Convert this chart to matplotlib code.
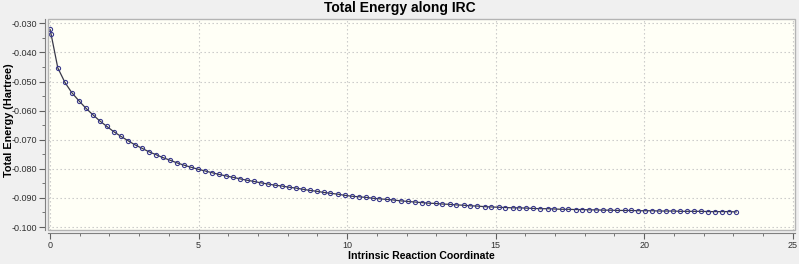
import matplotlib
matplotlib.use('Agg')
import matplotlib.pyplot as plt
from matplotlib.patches import Rectangle
from matplotlib.ticker import MultipleLocator, FormatStrFormatter

#IRC points
irc_coord = [0.00, 0.03, 0.26, 0.50, 0.73, 0.97, 1.20, 1.44, 1.67, 1.91,
             2.14, 2.38, 2.62, 2.85, 3.09, 3.32, 3.56, 3.79, 4.03, 4.26,
             4.50, 4.73, 4.97, 5.21, 5.44, 5.68, 5.91, 6.15, 6.38, 6.62,
             6.85, 7.09, 7.33, 7.56, 7.80, 8.03, 8.27, 8.50, 8.74, 8.97,
             9.21, 9.44, 9.68, 9.92, 10.15, 10.39, 10.62, 10.86, 11.09, 11.33,
             11.56, 11.80, 12.04, 12.27, 12.51, 12.74, 12.98, 13.21, 13.45, 13.68,
             13.92, 14.15, 14.39, 14.63, 14.86, 15.10, 15.33, 15.57, 15.80, 16.04,
             16.27, 16.51, 16.75, 16.98, 17.22, 17.45, 17.69, 17.92, 18.16, 18.39,
             18.63, 18.86, 19.10, 19.34, 19.57, 19.81, 20.04, 20.28, 20.51, 20.75,
             20.98, 21.22, 21.46, 21.69, 21.93, 22.16, 22.40, 22.63, 22.87, 23.10]
energy = [-0.0321, -0.0335, -0.0453, -0.0503, -0.0538, -0.0566, -0.0591, -0.0614, -0.0635, -0.0654,
          -0.0672, -0.0688, -0.0703, -0.0717, -0.0729, -0.0741, -0.0751, -0.0761, -0.0770, -0.0779,
          -0.0787, -0.0794, -0.0801, -0.0807, -0.0813, -0.0819, -0.0824, -0.0829, -0.0834, -0.0839,
          -0.0843, -0.0848, -0.0852, -0.0856, -0.0859, -0.0863, -0.0866, -0.0870, -0.0874, -0.0877,
          -0.0881, -0.0884, -0.0887, -0.0891, -0.0894, -0.0896, -0.0898, -0.0901, -0.0903, -0.0905,
          -0.0907, -0.0910, -0.0912, -0.0914, -0.0916, -0.0918, -0.0919, -0.0921, -0.0922, -0.0924,
          -0.0925, -0.0927, -0.0928, -0.0930, -0.0931, -0.0932, -0.0933, -0.0934, -0.0934, -0.0935,
          -0.0936, -0.0937, -0.0937, -0.0938, -0.0939, -0.0939, -0.0940, -0.0940, -0.0941, -0.0941,
          -0.0942, -0.0942, -0.0943, -0.0943, -0.0943, -0.0944, -0.0944, -0.0944, -0.0945, -0.0945,
          -0.0945, -0.0946, -0.0946, -0.0946, -0.0946, -0.0947, -0.0947, -0.0947, -0.0947, -0.0948]

plt.rcParams['font.family'] = ['Liberation Sans', 'DejaVu Sans']

fig = plt.figure(figsize=(7.99, 2.64), dpi=100, facecolor='#f0f0f0')
ax = fig.add_axes([0.0597, 0.129, 0.9353, 0.799])
ax.set_facecolor('#fffff6')

#Curve with small open circle markers
ax.plot(irc_coord, energy, color='#383848', linewidth=0.9,
        marker='o', markersize=3.0, markerfacecolor='none',
        markeredgecolor='#3a3a8c', markeredgewidth=0.8, zorder=3)

ax.set_xlim(-0.08, 25.08)
ax.set_ylim(-0.1010, -0.0285)

#Axis formatting
ax.xaxis.set_major_locator(MultipleLocator(5))
ax.xaxis.set_minor_locator(MultipleLocator(1))
ax.yaxis.set_major_locator(MultipleLocator(0.01))
ax.yaxis.set_minor_locator(MultipleLocator(0.005))
ax.yaxis.set_major_formatter(FormatStrFormatter('%.3f'))

ax.grid(True, which='major', linestyle=(0, (1.2, 2.4)), color='#c4c4c4', linewidth=0.8)

for side in ['top', 'right']:
    ax.spines[side].set_visible(False)
ax.spines['left'].set_position(('outward', 2))
ax.spines['bottom'].set_position(('outward', 2.5))
ax.spines['left'].set_color('#808080')
ax.spines['bottom'].set_color('#808080')

#Frame around plot area
ax.add_patch(Rectangle((0, 0), 1, 1, transform=ax.transAxes, fill=False,
                       edgecolor='#b4b4b4', linewidth=1.0, clip_on=False, zorder=4))

ax.tick_params(axis='both', which='major', length=4, color='#606060',
               labelsize=6.5, labelcolor='#303030', pad=1.5)
ax.tick_params(axis='both', which='minor', length=2.5, color='#606060')

#Title is centred on the whole window, not on the plot area
fig.text(0.5, 0.968, 'Total Energy along IRC', fontsize=10, fontweight='bold',
         ha='center', va='center')
ax.set_xlabel('Intrinsic Reaction Coordinate', fontsize=7.6, fontweight='bold', labelpad=1)
ax.set_ylabel('Total Energy (Hartree)', fontsize=7.8, fontweight='bold')
ax.yaxis.set_label_coords(-0.045, 0.52)

plt.savefig('out.png', dpi=100, facecolor=fig.get_facecolor())
